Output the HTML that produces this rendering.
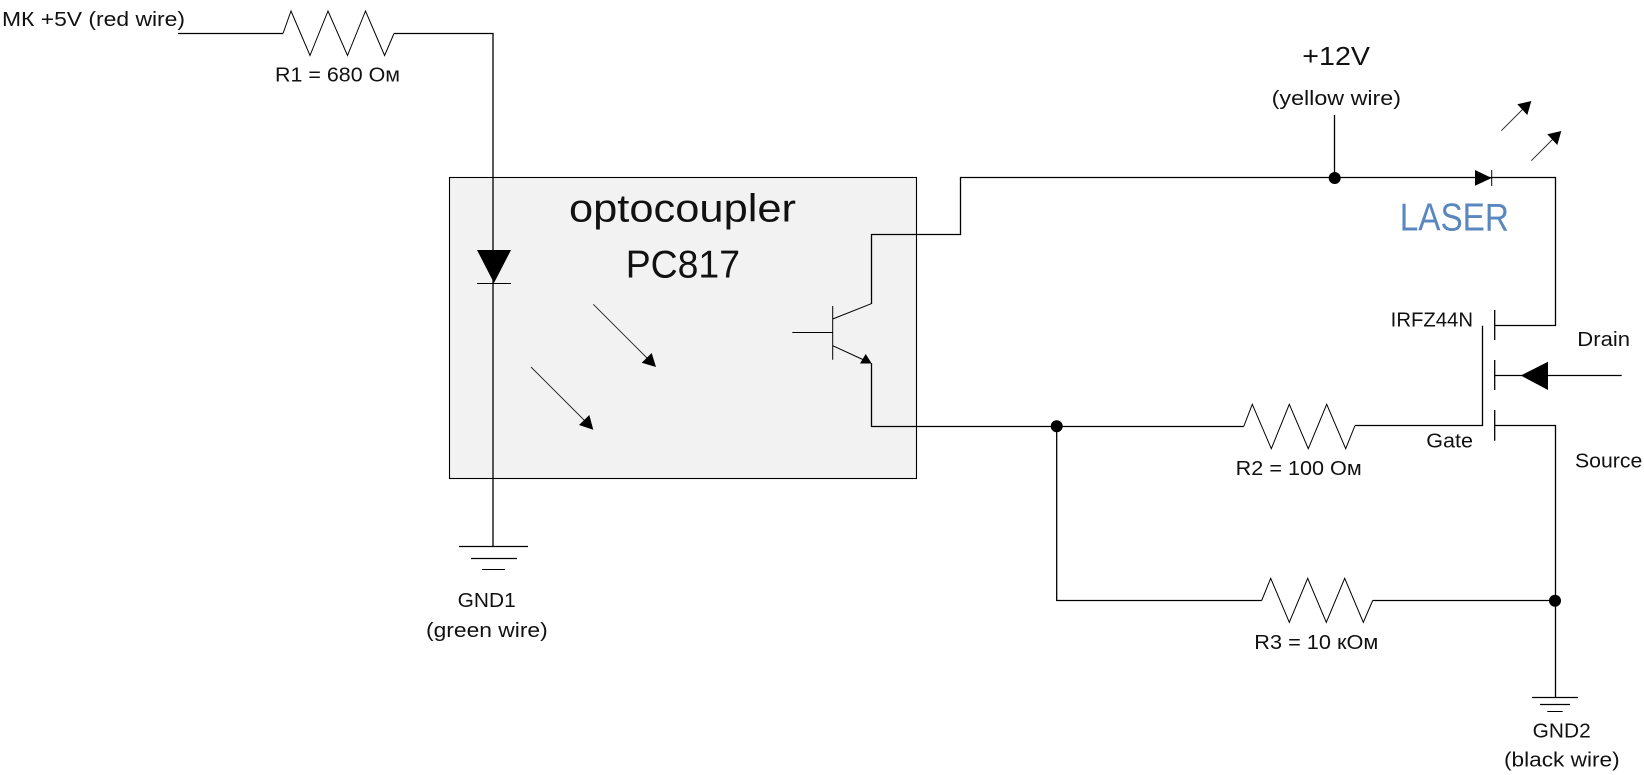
<!DOCTYPE html>
<html>
<head>
<meta charset="utf-8">
<style>
html,body{margin:0;padding:0;background:#fff;width:1644px;height:775px;overflow:hidden}
svg{display:block}
text{font-family:"Liberation Sans",sans-serif;fill:#111}
.w{fill:none;stroke:#000;stroke-width:1.3}
.t{fill:none;stroke:#000;stroke-width:1}
.s{font-size:20px}
</style>
</head>
<body>
<svg width="1644" height="775" viewBox="0 0 1644 775" xmlns="http://www.w3.org/2000/svg">
<rect x="449.5" y="177.5" width="467" height="301" fill="#f2f2f2" stroke="#000" stroke-width="1.1"/>

<!-- R1 and opto LED -->
<path class="w" d="M178 33.5H283M394 33.5H493V546"/>
<polyline class="t" points="283,33.5 291,11 310,55.5 328,11 347.5,55.5 365.5,11 384.6,55.5 394,33.5"/>
<polygon points="477,250 511,250 494,283" fill="#000"/>
<path class="t" d="M477 283.5H511"/>
<path class="w" d="M459 546.5H528M471 558.5H517"/><path class="t" d="M482 569.5H505"/>

<!-- light arrows inside -->
<path d="M593.3 304.3L650 361M531 367L587.5 423.5" stroke="#222" stroke-width="0.9" fill="none"/>
<polygon points="656,367 641.7,362.7 651.7,353" fill="#000"/>
<polygon points="593.3,429.7 579,425 589.3,415" fill="#000"/>

<!-- phototransistor -->
<path class="t" d="M792.3 332.5H832.7M832.7 306V359.7M832.7 319L871.3 303.7M832.7 345.7L866 361"/>
<polygon points="871.7,363.5 860,363.5 865.7,354" fill="#000"/>
<path class="w" d="M871.5 304V234.5H960.5V177.5H1555.5V325.5H1494.7M871.5 363V426.5H1243.7"/>
<path class="w" d="M1334.5 115V177"/>
<circle cx="1334.7" cy="178" r="6" fill="#000"/>

<!-- laser diode -->
<polygon points="1475,170 1475,185.7 1491.7,178" fill="#000"/>
<path class="t" d="M1491.7 170V186"/>
<path d="M1501.3 130.7L1525 107M1531.3 160.7L1555 137" stroke="#222" stroke-width="0.9" fill="none"/>
<polygon points="1531.3,101 1517.3,104.3 1527.3,115" fill="#000"/>
<polygon points="1561.3,131 1547.3,134.3 1557.3,145" fill="#000"/>

<!-- MOSFET -->
<path class="w" d="M1494.7 310V340M1494.7 360V390M1494.7 410V440.7"/>
<path class="w" d="M1482.5 325.7V425.5H1355M1494.7 375.5H1621.7M1494.7 425.5H1555.5V697"/>
<polygon points="1520.7,375.5 1548,361.7 1548,390" fill="#000"/>

<!-- R2 -->
<polyline class="t" points="1243.7,426.5 1252.3,404.3 1271.3,448.7 1289.3,404.3 1308.3,448.7 1326.7,404.3 1345.7,448.7 1355,425.5"/>
<circle cx="1056.7" cy="426.3" r="6" fill="#000"/>
<path class="w" d="M1056.7 426V600.5H1261.7M1372.7 600.5H1555"/>
<!-- R3 -->
<polyline class="t" points="1261.7,600.5 1270.7,578.3 1289.3,622.3 1307.7,578.3 1326.3,622.3 1344.7,578.3 1363.3,622.3 1372.7,600.5"/>
<circle cx="1555" cy="600.7" r="6" fill="#000"/>
<path class="w" d="M1532 697.5H1578M1540 704.5H1570"/><path class="t" d="M1547.3 711.5H1562.7"/>

<!-- labels -->
<text class="s" x="2" y="26" textLength="183" lengthAdjust="spacingAndGlyphs">МК +5V (red wire)</text>
<text class="s" x="275" y="81.5" textLength="125" lengthAdjust="spacingAndGlyphs">R1 = 680 Ом</text>
<text x="569" y="221.7" font-size="39" textLength="227" lengthAdjust="spacingAndGlyphs">optocoupler</text>
<text x="625.7" y="277.3" font-size="39" textLength="114.3" lengthAdjust="spacingAndGlyphs">PC817</text>
<text x="1302.3" y="65" font-size="26" textLength="67.7" lengthAdjust="spacingAndGlyphs">+12V</text>
<text class="s" x="1271.7" y="105" textLength="129.3" lengthAdjust="spacingAndGlyphs">(yellow wire)</text>
<text x="1399.7" y="230.7" font-size="39" textLength="109.3" lengthAdjust="spacingAndGlyphs" style="fill:#5a87be">LASER</text>
<text class="s" x="1390.7" y="326.7" textLength="82.3" lengthAdjust="spacingAndGlyphs">IRFZ44N</text>
<text class="s" x="1577.3" y="346" textLength="52.7" lengthAdjust="spacingAndGlyphs">Drain</text>
<text class="s" x="1426.3" y="447.3" textLength="46.7" lengthAdjust="spacingAndGlyphs">Gate</text>
<text class="s" x="1575" y="467.7" textLength="67.3" lengthAdjust="spacingAndGlyphs">Source</text>
<text class="s" x="1235.7" y="475" textLength="126" lengthAdjust="spacingAndGlyphs">R2 = 100 Ом</text>
<text class="s" x="1254.3" y="649" textLength="124" lengthAdjust="spacingAndGlyphs">R3 = 10 кОм</text>
<text class="s" x="457.7" y="607" textLength="58" lengthAdjust="spacingAndGlyphs">GND1</text>
<text class="s" x="426" y="637" textLength="121.7" lengthAdjust="spacingAndGlyphs">(green wire)</text>
<text class="s" x="1532.7" y="737.3" textLength="58" lengthAdjust="spacingAndGlyphs">GND2</text>
<text class="s" x="1504" y="766.7" textLength="115.7" lengthAdjust="spacingAndGlyphs">(black wire)</text>
</svg>
</body>
</html>
